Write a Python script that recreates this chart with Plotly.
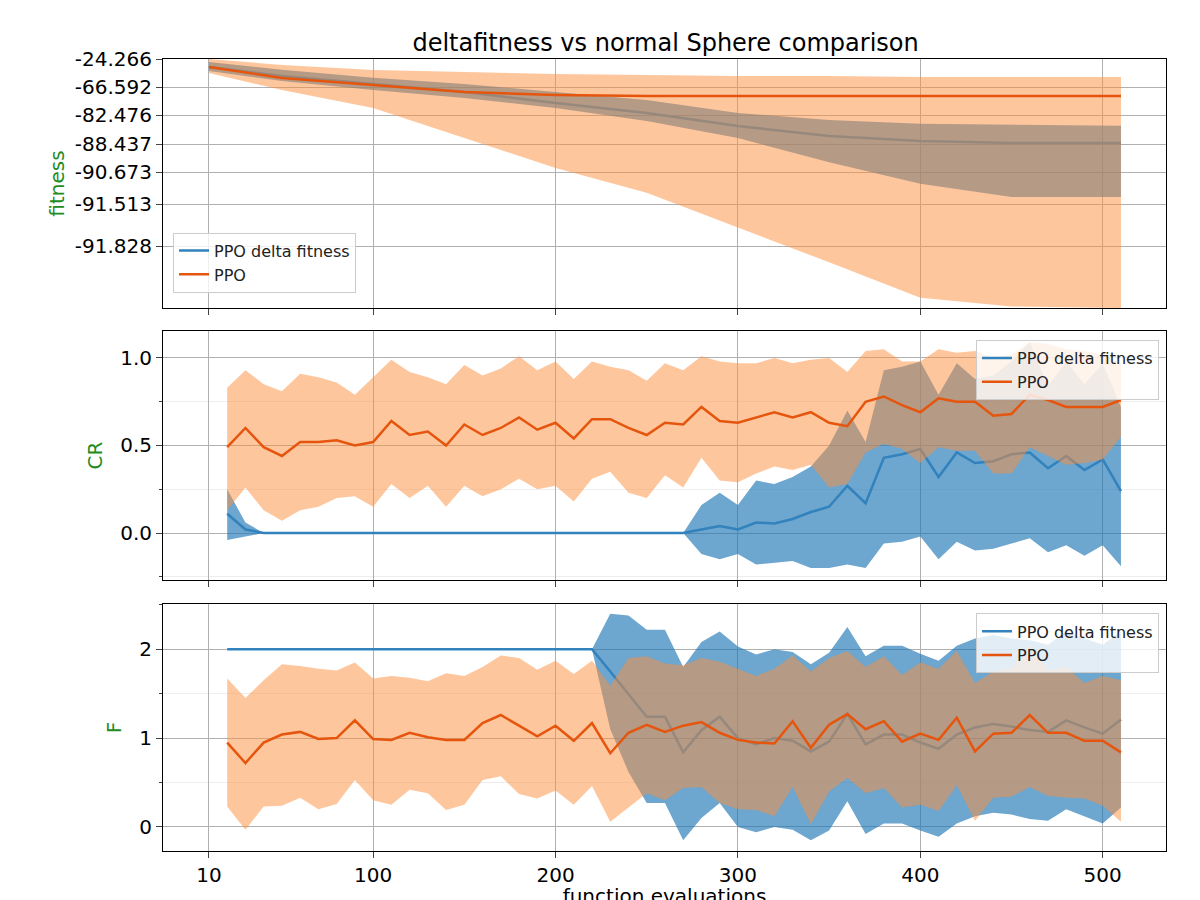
import numpy as np
import plotly.graph_objects as go

# ---------- data ----------
x_top = [10, 50, 100, 150, 200, 250, 300, 350, 400, 450, 510]
top_delta_mean = [-36.36, -49.97, -62.06, -69.43, -75.67, -81.34, -84.74, -86.79, -87.82, -88.23, -88.23]
top_delta_up = [-28.8, -40.6, -52.7, -62.1, -69.4, -73.9, -81.3, -83.5, -84.3, -84.5, -84.7]
top_delta_lo = [-42.4, -57.5, -68.3, -72.8, -78.5, -83.7, -87.2, -89.9, -90.98, -91.33, -91.33]
top_ppo_mean = [-36.4, -53.0, -63.6, -69.4, -71.1, -71.7, -71.7, -71.7, -71.7, -71.7, -71.7]
top_ppo_up = [-24.3, -33.3, -40.9, -43.9, -47.0, -48.5, -50.0, -50.0, -51.5, -51.5, -51.5]
top_ppo_lo = [-45.4, -68.3, -78.5, -87.2, -90.35, -91.22, -91.69, -91.86, -91.93, -91.947, -91.95]

fit_ticks = [-24.266, -66.592, -82.476, -88.437, -90.673, -91.513, -91.828]

x_par = list(range(20, 520, 10))

cr_ppo_mean = [0.49, 0.60, 0.49, 0.44, 0.52, 0.52, 0.53, 0.50, 0.52, 0.64, 0.56, 0.58, 0.50, 0.62, 0.56, 0.60, 0.66, 0.59, 0.63, 0.54,
               0.65, 0.65, 0.60, 0.56, 0.63, 0.62, 0.72, 0.64, 0.63, 0.66, 0.69, 0.66, 0.69, 0.63, 0.61, 0.75, 0.78, 0.73, 0.69, 0.77,
               0.75, 0.75, 0.67, 0.68, 0.79, 0.76, 0.72, 0.72, 0.72, 0.76]
cr_ppo_up = [0.83, 0.93, 0.85, 0.81, 0.91, 0.89, 0.86, 0.79, 0.89, 0.99, 0.92, 0.89, 0.85, 0.96, 0.90, 0.94, 1.01, 0.93, 0.98, 0.88,
             0.98, 0.95, 0.93, 0.87, 0.97, 0.93, 1.01, 0.98, 0.97, 0.97, 1.00, 0.97, 0.99, 1.00, 0.92, 1.04, 1.05, 0.98, 0.98, 1.05,
             1.03, 1.04, 1.00, 1.02, 1.09, 1.08, 1.05, 1.04, 1.02, 0.97]
cr_ppo_lo = [0.13, 0.26, 0.13, 0.07, 0.13, 0.15, 0.20, 0.21, 0.15, 0.28, 0.20, 0.27, 0.15, 0.27, 0.21, 0.25, 0.31, 0.25, 0.27, 0.18,
             0.31, 0.35, 0.23, 0.20, 0.33, 0.26, 0.43, 0.30, 0.29, 0.34, 0.38, 0.36, 0.39, 0.26, 0.28, 0.46, 0.51, 0.48, 0.40, 0.49,
             0.47, 0.47, 0.34, 0.34, 0.49, 0.44, 0.39, 0.40, 0.42, 0.55]
cr_delta_mean = [0.11, 0.02] + [0.0] * 24 + [0.02, 0.04, 0.02, 0.06, 0.055, 0.08, 0.12, 0.15, 0.27, 0.17, 0.43, 0.45, 0.48, 0.32,
                                            0.46, 0.40, 0.41, 0.45, 0.46, 0.37, 0.44, 0.36, 0.42, 0.24]
cr_delta_up = [0.25, 0.06] + [0.0] * 24 + [0.16, 0.23, 0.16, 0.30, 0.28, 0.32, 0.38, 0.50, 0.70, 0.52, 0.93, 0.95, 0.98, 0.79,
                                          0.97, 0.88, 0.90, 0.98, 1.09, 0.84, 0.98, 0.85, 0.97, 0.72]
cr_delta_lo = [-0.04, -0.02] + [0.0] * 24 + [-0.12, -0.15, -0.12, -0.18, -0.17, -0.16, -0.20, -0.20, -0.18, -0.20, -0.06, -0.05,
                                            -0.02, -0.15, -0.05, -0.10, -0.09, -0.06, -0.03, -0.11, -0.07, -0.13, -0.07, -0.19]

f_delta_mean = [2.0] * 21 + [1.75, 1.5, 1.24, 1.24, 0.84, 1.09, 1.24, 1.0, 0.93, 1.0, 0.97, 0.85, 0.96, 1.27, 0.93, 1.04, 1.04,
                             0.95, 0.88, 1.04, 1.12, 1.16, 1.13, 1.09, 1.07, 1.2, 1.12, 1.05, 1.21]
f_delta_up = [2.0] * 21 + [2.40, 2.38, 2.22, 2.22, 1.8, 2.08, 2.2, 2.03, 1.94, 2.0, 1.97, 1.83, 1.96, 2.25, 1.92, 2.04, 2.04,
                           1.95, 1.87, 2.04, 2.12, 2.16, 2.12, 2.1, 2.05, 2.2, 2.12, 2.05, 2.2]
f_delta_lo = [2.0] * 21 + [1.1, 0.62, 0.27, 0.27, -0.15, 0.1, 0.27, 0.0, -0.06, 0.0, -0.03, -0.15, -0.04, 0.29, -0.08, 0.04,
                           0.04, -0.04, -0.11, 0.04, 0.12, 0.16, 0.14, 0.09, 0.07, 0.2, 0.12, 0.04, 0.22]
f_ppo_mean = [0.95, 0.72, 0.95, 1.04, 1.07, 0.99, 1.0, 1.2, 0.99, 0.98, 1.06, 1.01, 0.98, 0.98, 1.17, 1.26, 1.14, 1.02, 1.14, 0.97,
              1.17, 0.83, 1.06, 1.15, 1.07, 1.14, 1.18, 1.06, 0.98, 0.95, 0.94, 1.19, 0.89, 1.15, 1.27, 1.1, 1.19, 0.96, 1.05, 0.98,
              1.23, 0.85, 1.05, 1.06, 1.26, 1.06, 1.06, 0.97, 0.97, 0.84]
f_ppo_up = [1.67, 1.45, 1.65, 1.83, 1.81, 1.78, 1.76, 1.85, 1.67, 1.70, 1.68, 1.64, 1.73, 1.70, 1.80, 1.93, 1.90, 1.77, 1.87, 1.72,
            1.87, 1.59, 1.90, 1.92, 1.84, 1.82, 1.90, 1.86, 1.78, 1.70, 1.78, 1.93, 1.75, 1.90, 1.98, 1.80, 1.92, 1.71, 1.85, 1.78,
            1.98, 1.62, 1.75, 1.78, 2.05, 1.76, 1.80, 1.62, 1.70, 1.65]
f_ppo_lo = [0.23, -0.03, 0.23, 0.24, 0.33, 0.20, 0.26, 0.53, 0.30, 0.25, 0.42, 0.38, 0.19, 0.25, 0.53, 0.57, 0.37, 0.32, 0.41, 0.25,
            0.46, 0.06, 0.22, 0.38, 0.30, 0.44, 0.45, 0.27, 0.20, 0.19, 0.12, 0.45, 0.03, 0.40, 0.55, 0.38, 0.44, 0.22, 0.25, 0.18,
            0.47, 0.07, 0.33, 0.34, 0.45, 0.35, 0.33, 0.32, 0.24, 0.06]

# ---------- top axis warp (non-linear fitness scale) ----------
knot_fit = np.array(fit_ticks + [-91.95])
knot_pos = np.array([51, 79, 107, 136, 164, 196, 238, 300])


def warp(v):
    return -np.interp(-np.asarray(v, dtype=float), -knot_fit, knot_pos)


BLUE = "rgb(49,130,189)"
BLUE_FILL = "rgba(31,119,180,0.65)"
ORANGE = "rgb(230,85,13)"
ORANGE_FILL = "rgba(253,141,60,0.5)"
GREEN = "rgb(34,139,34)"

fig = go.Figure()


def band(x, lo, up, color, xa, ya):
    fig.add_trace(go.Scatter(x=list(x) + list(x)[::-1], y=list(up) + list(lo)[::-1], fill="toself",
                             fillcolor=color, line=dict(width=0), mode="lines", hoverinfo="skip",
                             showlegend=False, xaxis=xa, yaxis=ya))


def line(x, y, color, name, xa, ya, legend):
    fig.add_trace(go.Scatter(x=x, y=y, mode="lines", line=dict(color=color, width=2.5), name=name,
                             xaxis=xa, yaxis=ya, legend=legend))


panels = [
    ("x", "y", "legend", x_top, [warp(top_delta_lo), warp(top_delta_up), warp(top_delta_mean)],
     [warp(top_ppo_lo), warp(top_ppo_up), warp(top_ppo_mean)]),
    ("x2", "y2", "legend2", x_par, [cr_delta_lo, cr_delta_up, cr_delta_mean], [cr_ppo_lo, cr_ppo_up, cr_ppo_mean]),
    ("x3", "y3", "legend3", x_par, [f_delta_lo, f_delta_up, f_delta_mean], [f_ppo_lo, f_ppo_up, f_ppo_mean]),
]
for xa, ya, lg, xs, d, p in panels:
    band(xs, d[0], d[1], BLUE_FILL, xa, ya)
    line(xs, d[2], BLUE, "PPO delta fitness", xa, ya, lg)
    band(xs, p[0], p[1], ORANGE_FILL, xa, ya)
    line(xs, p[2], ORANGE, "PPO", xa, ya, lg)

tickfont = dict(size=20, color="black")
xcommon = dict(range=[-15.2, 534.7], tickvals=[10, 100, 200, 300, 400, 500], showgrid=True, gridcolor="#b0b0b0",
               showline=True, mirror=True, linecolor="black", ticks="outside", ticklen=6, tickfont=tickfont,
               zeroline=False, automargin=False)
ycommon = dict(showgrid=True, gridcolor="#b0b0b0", showline=True, mirror=True, linecolor="black", ticks="outside",
               ticklen=6, tickfont=tickfont, zeroline=False, automargin=False)
legcommon = dict(bgcolor="rgba(255,255,255,0.8)", bordercolor="#cccccc", borderwidth=1, font=dict(size=16, color="#222"))

fig.update_layout(
    width=1200, height=900, plot_bgcolor="white", paper_bgcolor="white",
    font=dict(family="DejaVu Sans"),
    margin=dict(l=155, r=42, t=51, b=57, autoexpand=False),
    title=dict(text="deltafitness vs normal Sphere comparison", x=0.548, xanchor="center",
               yref="container", y=0.962, yanchor="middle", font=dict(size=24, color="black")),
    xaxis=dict(xcommon, domain=[0, 1], anchor="y", showticklabels=False),
    xaxis2=dict(xcommon, domain=[0, 1], anchor="y2", showticklabels=False, matches="x"),
    xaxis3=dict(xcommon, domain=[0, 1], anchor="y3", matches="x",
                title=dict(text="function evaluations", font=dict(size=20, color="black"), standoff=2)),
    yaxis=dict(ycommon, domain=[0.6856, 1], range=[-300, -51], tickvals=list(warp(fit_ticks)),
               ticktext=[f"{v:.3f}" for v in fit_ticks],
               title=dict(text="fitness", font=dict(size=20, color=GREEN), standoff=4)),
    yaxis2=dict(ycommon, domain=[0.342, 0.6566], range=[-0.269, 1.154], tickvals=[0, 0.5, 1.0],
                ticktext=["0.0", "0.5", "1.0"],
                minor=dict(tickvals=[-0.25, 0.25, 0.75], showgrid=True, gridcolor="#eeeeee", ticks="outside", ticklen=3),
                title=dict(text="CR", font=dict(size=20, color=GREEN), standoff=12)),
    yaxis3=dict(ycommon, domain=[0, 0.312], range=[-0.27, 2.51], tickvals=[0, 1, 2],
                minor=dict(tickvals=[0.5, 1.5, 2.5], showgrid=True, gridcolor="#eeeeee", ticks="outside", ticklen=3),
                title=dict(text="F", font=dict(size=20, color=GREEN), standoff=12)),
    legend=dict(legcommon, x=0.01, y=0.705, xanchor="left", yanchor="bottom"),
    legend2=dict(legcommon, x=0.993, y=0.645, xanchor="right", yanchor="top"),
    legend3=dict(legcommon, x=0.993, y=0.3, xanchor="right", yanchor="top"),
)

fig.write_html("out.html")
